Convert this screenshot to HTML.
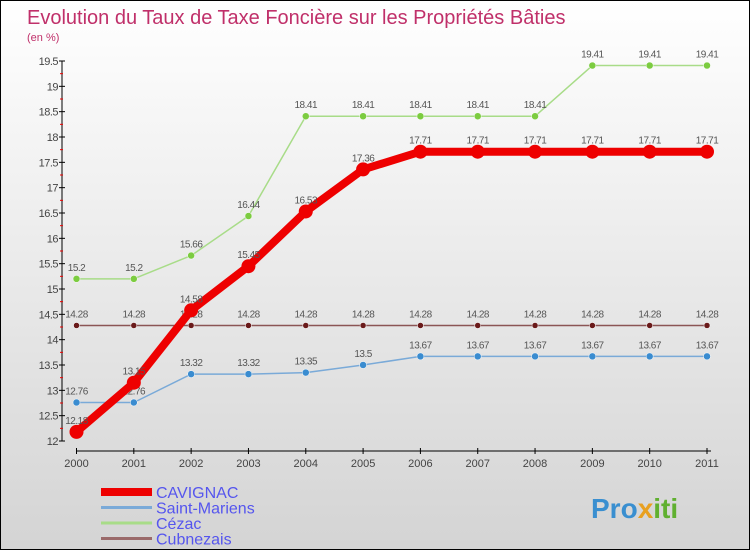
<!DOCTYPE html>
<html><head><meta charset="utf-8"><style>
body{margin:0}
#c{width:750px;height:550px;position:relative;overflow:hidden;background:linear-gradient(#ffffff,#d4d4d4);box-sizing:border-box;border:1px solid #000;font-family:"Liberation Sans",sans-serif}
</style></head><body>
<div id="c">
<svg id="s" width="750" height="550" style="position:absolute;left:0;top:0">
<text x="26" y="23" font-size="20" fill="#c0306a">Evolution du Taux de Taxe Foncière sur les Propriétés Bâties</text>
<text x="26" y="40" font-size="11" fill="#c0306a">(en %)</text>
<text x="590" y="517" font-size="28" font-weight="bold" fill="#3a8fd0">Pro<tspan fill="#e8a020">x</tspan><tspan fill="#60b030">iti</tspan></text>
</svg>
</div>
<script>
const years=[2000,2001,2002,2003,2004,2005,2006,2007,2008,2009,2010,2011];
const yTicks=[12,12.5,13,13.5,14,14.5,15,15.5,16,16.5,17,17.5,18,18.5,19,19.5];
const cavignac=[12.18,13.15,14.58,15.45,16.53,17.36,17.71,17.71,17.71,17.71,17.71,17.71];
const saintMariens=[12.76,12.76,13.32,13.32,13.35,13.5,13.67,13.67,13.67,13.67,13.67,13.67];
const cezac=[15.2,15.2,15.66,16.44,18.41,18.41,18.41,18.41,18.41,19.41,19.41,19.41];
const cubnezais=[14.28,14.28,14.28,14.28,14.28,14.28,14.28,14.28,14.28,14.28,14.28,14.28];
const names=["CAVIGNAC","Saint-Mariens","Cézac","Cubnezais"];
const svg=document.getElementById('s');const NS='http://www.w3.org/2000/svg';
const X=i=>75.5+i*(706-75.5)/11;
const Y=v=>440-(v-12)*(380/7.5);
function mk(t,a,p){const e=document.createElementNS(NS,t);for(const k in a)e.setAttribute(k,a[k]);(p||svg).appendChild(e);return e;}
// axes
let ax=mk('line',{x1:61,y1:60,x2:61,y2:440,stroke:'#000'});


let bx=mk('line',{x1:75,y1:450,x2:710,y2:450,stroke:'#000'});


yTicks.forEach(v=>{mk('line',{x1:58,x2:64,y1:Y(v),y2:Y(v),stroke:'#000'});
if(v<19.5)mk('line',{x1:59,x2:62,y1:Y(v+0.25),y2:Y(v+0.25),stroke:'#e00'});
const t=mk('text',{x:57,y:Y(v)+4,'font-size':11,'text-anchor':'end',fill:'#444','letter-spacing':'-0.5'});t.textContent=v;

});
years.forEach((y,i)=>{mk('line',{x1:X(i),x2:X(i),y1:447,y2:453,stroke:'#000'});
const t=mk('text',{x:X(i),y:466,'font-size':11,'text-anchor':'middle',fill:'#444'});t.textContent=y;

});
function series(d,col,dot,w,r,name,lblCol){
const g=mk('g',{});


mk('polyline',{points:d.map((v,i)=>X(i)+','+Y(v)).join(' '),fill:'none',stroke:col,'stroke-width':w,'stroke-linejoin':'round'},g);
d.forEach((v,i)=>{const c=mk('circle',{cx:X(i),cy:Y(v),r:r,fill:dot,stroke:'#fff','stroke-width':r>4?0:0.5},g);


const t=mk('text',{x:X(i),y:Y(v)-8,'font-size':10,'text-anchor':'middle',fill:'#555','letter-spacing':'-0.5'},g);t.textContent=v;});}
series(cubnezais,'#8b5555','#6a1a1a',1.5,3,'series-cubnezais');
series(saintMariens,'#7aaad8','#3a8cd0',1.5,3.5,'series-saint-mariens');
series(cezac,'#a8dc88','#7ccc40',1.5,3.5,'series-cezac');
series(cavignac,'#ee0000','#ee0000',8,7,'series-cavignac');
const lc=['#ee0000','#7aaad8','#a8dc88','#9a6a6a'],lw=[8,3,3,3];
names.forEach((n,i)=>{const y=491+i*15.5;
const g=mk('g',{});


mk('line',{x1:100,x2:151,y1:y,y2:y,stroke:lc[i],'stroke-width':lw[i]},g);
const t=mk('text',{x:155,y:y+6,'font-size':16,fill:'#5555ee'},g);t.textContent=n;});
</script>
</body></html>
